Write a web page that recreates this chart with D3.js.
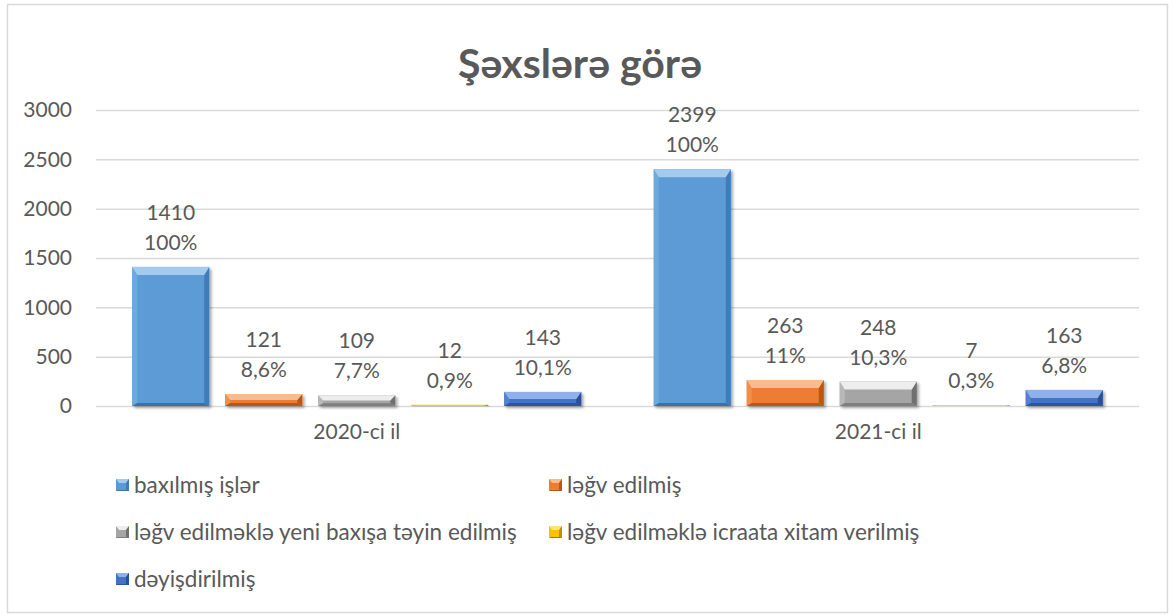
<!DOCTYPE html>
<html>
<head>
<meta charset="utf-8">
<script src="https://cdn.jsdelivr.net/npm/d3@7"></script>
<style>
html,body{margin:0;padding:0;background:#fff;}
svg{display:block;}
text{font-family:Lato,"Open Sans",sans-serif;fill:#595959;}
</style>
</head>
<body>
<svg id="chart" width="1174" height="615"></svg>
<script>
const title = "Şəxslərə görə";
const categories = ["2020-ci il", "2021-ci il"];
const seriesNames = ["baxılmış işlər", "ləğv edilmiş", "ləğv edilməklə yeni baxışa təyin edilmiş", "ləğv edilməklə icraata xitam verilmiş", "dəyişdirilmiş"];
const values2020 = [1410, 121, 109, 12, 143];
const values2021 = [2399, 263, 248, 7, 163];
const percents2020 = ["100%", "8,6%", "7,7%", "0,9%", "10,1%"];
const percents2021 = ["100%", "11%", "10,3%", "0,3%", "6,8%"];
const yTicks = [0, 500, 1000, 1500, 2000, 2500, 3000];

const palette = [
  {base:"#5B9BD5", top:"#A4CBEF", left:"#6EA9DE", right:"#3F7CB8", bottom:"#41719C"},
  {base:"#ED7D31", top:"#F9BC8E", left:"#F08E4C", right:"#C0560F", bottom:"#AE5A21"},
  {base:"#A5A5A5", top:"#EDEDED", left:"#B8B8B8", right:"#707070", bottom:"#7F7F7F"},
  {base:"#FFC000", top:"#FFE27F", left:"#FFC824", right:"#BF9000", bottom:"#A67C00"},
  {base:"#4472C4", top:"#8FB0E8", left:"#5581D0", right:"#2A4F94", bottom:"#2F5597"}
];

const svg = d3.select("#chart");

// outer border
svg.append("rect").attr("x", 7.5).attr("y", 4.5).attr("width", 1160).attr("height", 608)
  .attr("fill", "#fff").attr("stroke", "#d9d9d9").attr("stroke-width", 1.5);

// shadow filter
const defs = svg.append("defs");
const f = defs.append("filter").attr("id", "sh").attr("x", "-10%").attr("y", "-10%").attr("width", "130%").attr("height", "140%");
f.append("feGaussianBlur").attr("in", "SourceAlpha").attr("stdDeviation", 1.5).attr("result", "b");
f.append("feOffset").attr("in", "b").attr("dx", 1.5).attr("dy", 2).attr("result", "o");
f.append("feComponentTransfer").attr("in", "o").attr("result", "o2")
  .append("feFuncA").attr("type", "linear").attr("slope", 0.35);
const fm = f.append("feMerge");
fm.append("feMergeNode").attr("in", "o2");
fm.append("feMergeNode").attr("in", "SourceGraphic");

// title
svg.append("text").attr("x", 580).attr("y", 78).attr("text-anchor", "middle")
  .style("font-size", "41px").style("font-weight", "700").text(title);

const plotL = 96, plotR = 1139;
const y = d3.scaleLinear().domain([0, 3000]).range([406, 110]);
const x0 = d3.scaleBand().domain(categories).range([plotL, plotR]).paddingInner(0).paddingOuter(0);
const x1 = d3.scaleBand().domain(d3.range(seriesNames.length)).range([0, x0.bandwidth()])
  .paddingInner(0.172).paddingOuter(0.39);

// y axis with gridlines
const yAxis = d3.axisLeft(y).tickValues(yTicks).tickSize(-(plotR - plotL)).tickPadding(24).tickFormat(d3.format("d"));
const gy = svg.append("g").attr("transform", `translate(${plotL},0)`).call(yAxis);
gy.select(".domain").remove();
gy.selectAll(".tick line").attr("stroke", "#d9d9d9").attr("stroke-width", 1.5);
gy.selectAll(".tick text").style("font-size", "21px").attr("fill", "#595959")
  .style("font-family", "Lato, 'Open Sans', sans-serif");

// x axis labels
const xAxis = d3.axisBottom(x0).tickSize(0).tickPadding(18);
const gx = svg.append("g").attr("transform", `translate(0,${y(0)})`).call(xAxis);
gx.select(".domain").remove();
gx.selectAll(".tick text").style("font-size", "21px").attr("fill", "#595959")
  .style("font-family", "Lato, 'Open Sans', sans-serif");

function bevelBar(g, x, yTop, w, h, c) {
  if (h <= 0) return;
  const bt = Math.min(8, h / 2), bb = Math.min(3, h / 4), bs = Math.min(5, w / 4);
  const gg = g.append("g").attr("filter", "url(#sh)");
  gg.append("rect").attr("x", x).attr("y", yTop).attr("width", w).attr("height", h).attr("fill", c.base);
  const pt = (arr) => arr.map(p => p.join(",")).join(" ");
  gg.append("polygon").attr("points", pt([[x, yTop], [x + bs, yTop + bt], [x + bs, yTop + h - bb], [x, yTop + h]])).attr("fill", c.left);
  gg.append("polygon").attr("points", pt([[x + w, yTop], [x + w - bs, yTop + bt], [x + w - bs, yTop + h - bb], [x + w, yTop + h]])).attr("fill", c.right);
  gg.append("polygon").attr("points", pt([[x, yTop + h], [x + bs, yTop + h - bb], [x + w - bs, yTop + h - bb], [x + w, yTop + h]])).attr("fill", c.bottom);
  gg.append("polygon").attr("points", pt([[x, yTop], [x + w, yTop], [x + w - bs, yTop + bt], [x + bs, yTop + bt]])).attr("fill", c.top);
}

const groups = [
  {cat: categories[0], vals: values2020, pcts: percents2020},
  {cat: categories[1], vals: values2021, pcts: percents2021}
];

const barsG = svg.append("g");
const labelsG = svg.append("g");
groups.forEach(gr => {
  gr.vals.forEach((v, i) => {
    const bx = x0(gr.cat) + x1(i);
    const bw = x1.bandwidth();
    const yt = y(v);
    bevelBar(barsG, bx, yt, bw, y(0) - yt, palette[i]);
    const cx = bx + bw / 2;
    labelsG.append("text").attr("x", cx).attr("y", yt - 47).attr("text-anchor", "middle")
      .style("font-size", "21px").text(v);
    labelsG.append("text").attr("x", cx).attr("y", yt - 17).attr("text-anchor", "middle")
      .style("font-size", "21px").text(gr.pcts[i]);
  });
});

// legend
const legendPos = [
  {x: 116, y: 485}, {x: 549, y: 485},
  {x: 116, y: 532}, {x: 549, y: 532},
  {x: 116, y: 579}
];
const lg = svg.append("g");
seriesNames.forEach((name, i) => {
  const p = legendPos[i];
  const c = palette[i];
  const mx = p.x, my = p.y - 6, ms = 13;
  const g = lg.append("g");
  g.append("rect").attr("x", mx).attr("y", my).attr("width", ms).attr("height", 12).attr("fill", c.base);
  g.append("polygon").attr("points", `${mx},${my} ${mx+ms},${my} ${mx+ms-3},${my+4} ${mx+3},${my+4}`).attr("fill", c.top);
  g.append("polygon").attr("points", `${mx+ms},${my} ${mx+ms-3},${my+4} ${mx+ms-3},${my+11} ${mx+ms},${my+12}`).attr("fill", c.right);
  g.append("polygon").attr("points", `${mx},${my+12} ${mx+2},${my+11} ${mx+ms-2},${my+11} ${mx+ms},${my+12}`).attr("fill", c.bottom);
  lg.append("text").attr("x", mx + 18).attr("y", p.y + 8).style("font-size", "22.5px").text(name);
});
</script>
</body>
</html>
